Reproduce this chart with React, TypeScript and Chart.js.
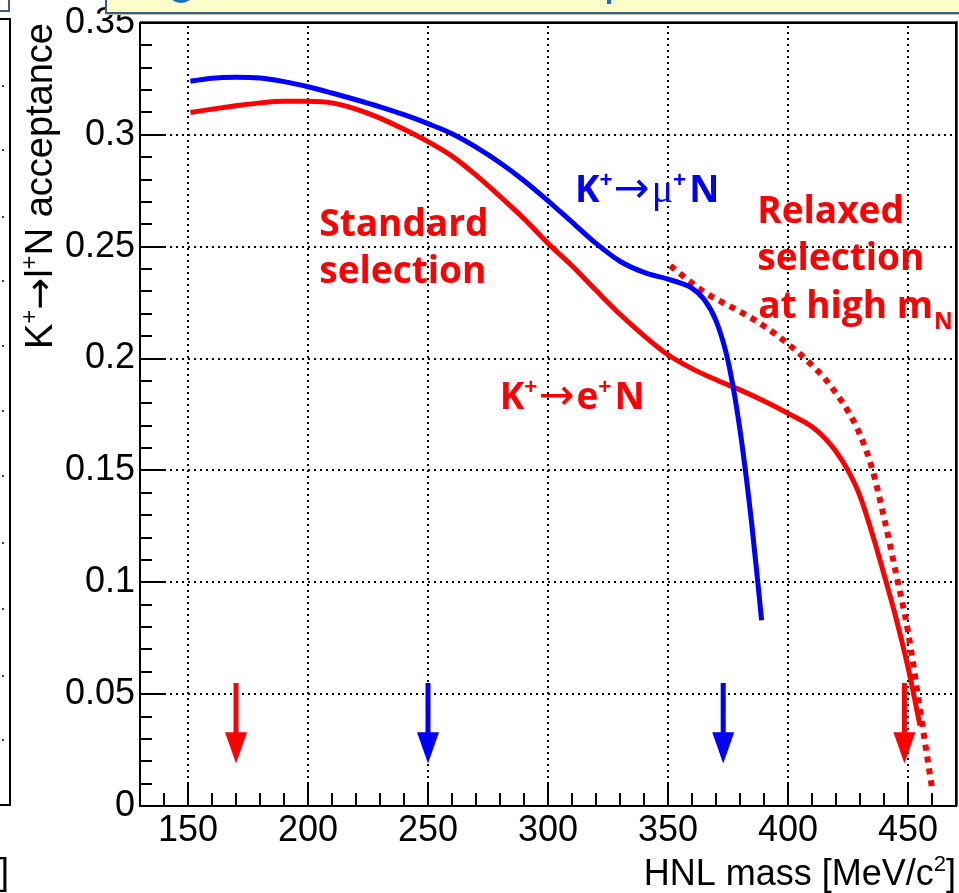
import React, { useEffect, useRef } from "react";
import { Chart, registerables } from "chart.js";

Chart.register(...registerables);

// ---------------- data ----------------
const muMass = [151, 160, 170, 180, 190, 200, 210, 220, 230, 240, 250, 260, 270, 280, 290, 300, 310, 320, 330, 340, 350, 355, 360, 365, 370, 375, 380, 385, 389];
const muAcc = [0.324, 0.3253, 0.3257, 0.3254, 0.3238, 0.3215, 0.3187, 0.3157, 0.3125, 0.309, 0.305, 0.3005, 0.2945, 0.2875, 0.2795, 0.2705, 0.261, 0.2515, 0.2435, 0.2385, 0.2355, 0.2338, 0.2315, 0.2265, 0.217, 0.199, 0.168, 0.125, 0.083];

const eMass = [151, 160, 170, 180, 190, 200, 210, 220, 230, 240, 250, 260, 270, 280, 290, 300, 310, 320, 330, 340, 350, 360, 370, 380, 390, 400, 410, 415, 420, 425, 430, 435, 440, 445, 450, 455];
const eAcc = [0.310, 0.3115, 0.313, 0.3143, 0.315, 0.315, 0.3143, 0.3115, 0.3075, 0.3025, 0.297, 0.2905, 0.282, 0.2725, 0.2625, 0.2515, 0.2415, 0.2305, 0.2198, 0.2102, 0.2017, 0.1955, 0.1905, 0.186, 0.181, 0.1755, 0.1695, 0.1648, 0.1585, 0.150, 0.1385, 0.122, 0.1035, 0.084, 0.062, 0.036];

const relaxMass = [351, 355, 360, 365, 370, 375, 380, 385, 390, 395, 400, 405, 410, 415, 420, 425, 430, 435, 440, 445, 450, 455, 460];
const relaxAcc = [0.2415, 0.238, 0.2338, 0.2298, 0.2266, 0.2238, 0.221, 0.218, 0.2145, 0.2107, 0.2065, 0.202, 0.197, 0.1915, 0.1845, 0.1765, 0.166, 0.151, 0.129, 0.104, 0.078, 0.043, 0.008];

const arrowMass = [170, 250, 373, 448.5];
const arrowColors = ["#ff0000", "#0000ff", "#0000ff", "#ff0000"];

const xTickValues = [150, 200, 250, 300, 350, 400, 450];
const xTickLabels = ["150", "200", "250", "300", "350", "400", "450"];
const yTickValues = [0, 0.05, 0.1, 0.15, 0.2, 0.25, 0.3, 0.35];
const yTickLabels = ["0", "0.05", "0.1", "0.15", "0.2", "0.25", "0.3", "0.35"];

const X_MIN = 130;
const X_MAX = 470;
const Y_MIN = 0;
const Y_MAX = 0.35;
const X_MINOR_STEP = 10;
const Y_MINOR_STEP = 0.01;

// arrow geometry in data units
const ARROW_TOP = 0.055;
const ARROW_HEAD_BASE = 0.033;
const ARROW_TIP = 0.019;

// ---------------- text styles ----------------
const ANN = '700 37px "Open Sans"';
const ANN_SUP = '700 23px "Open Sans"';
const SYM = '400 43px "DejaVu Sans"';
const MU = '400 40px "Liberation Serif"';
const AX = '400 38px "Liberation Sans"';
const AX_SUP = '400 24px "Liberation Sans"';
const AXT = '400 36px "Liberation Sans"';
const AXT_SUP = '400 22px "Liberation Sans"';

type Part = { t: string; f: string; dy?: number; gap?: number };

function richWidth(ctx: CanvasRenderingContext2D, parts: Part[]) {
  let w = 0;
  for (const p of parts) {
    ctx.font = p.f;
    w += ctx.measureText(p.t).width + (p.gap || 0);
  }
  return w;
}

function drawRich(ctx: CanvasRenderingContext2D, x: number, y: number, parts: Part[]) {
  let cx = x;
  for (const p of parts) {
    ctx.font = p.f;
    ctx.fillText(p.t, cx, y + (p.dy || 0));
    cx += ctx.measureText(p.t).width + (p.gap || 0);
  }
}

const annotations: { x: number; y: number; color: string; parts: Part[] }[] = [
  { x: 204.7, y: 0.2548, color: "#ff0000", parts: [{ t: "Standard", f: ANN }] },
  { x: 204.7, y: 0.2338, color: "#ff0000", parts: [{ t: "selection", f: ANN }] },
  {
    x: 311.2, y: 0.2702, color: "#0000ff",
    parts: [
      { t: "K", f: ANN }, { t: "+", f: ANN_SUP, dy: -14, gap: 1 }, { t: "\u2192", f: SYM, gap: 2 },
      { t: "\u03bc", f: MU }, { t: "+", f: ANN_SUP, dy: -14, gap: 3 }, { t: "N", f: ANN },
    ],
  },
  {
    x: 279.9, y: 0.1775, color: "#ff0000",
    parts: [
      { t: "K", f: ANN }, { t: "+", f: ANN_SUP, dy: -14, gap: 1 }, { t: "\u2192", f: SYM, gap: 2 },
      { t: "e", f: ANN }, { t: "+", f: ANN_SUP, dy: -14, gap: 3 }, { t: "N", f: ANN },
    ],
  },
  { x: 387.2, y: 0.2606, color: "#ff0000", parts: [{ t: "Relaxed", f: ANN }] },
  { x: 387.2, y: 0.2398, color: "#ff0000", parts: [{ t: "selection", f: ANN }] },
  {
    x: 387.6, y: 0.2183, color: "#ff0000",
    parts: [{ t: "at high m", f: ANN, gap: 1 }, { t: "N", f: ANN_SUP, dy: 11 }],
  },
];

const yTitle: Part[] = [
  { t: "K", f: AX }, { t: "+", f: AX_SUP, dy: -15 }, { t: "\u2192", f: '400 38px "DejaVu Sans"' },
  { t: "l", f: AX }, { t: "+", f: AX_SUP, dy: -15 }, { t: "N acceptance", f: AX },
];
const xTitle: Part[] = [
  { t: "HNL mass [MeV/c", f: AXT }, { t: "2", f: AXT_SUP, dy: -14 }, { t: "]", f: AXT },
];

const decor = {
  id: "decor",
  beforeDraw(chart: any) {
    const { ctx, width, height } = chart;
    ctx.save();
    ctx.fillStyle = "#ffffff";
    ctx.fillRect(0, 0, width, height);
    ctx.restore();
  },
  beforeDatasetsDraw(chart: any) {
    const { ctx, chartArea: a, scales } = chart;
    const x = scales.x;
    const y = scales.y;
    ctx.save();
    // dotted grid
    ctx.strokeStyle = "#000";
    ctx.lineWidth = 2;
    ctx.setLineDash([2, 4]);
    for (const v of xTickValues) {
      const px = Math.round(x.getPixelForValue(v));
      ctx.beginPath();
      ctx.moveTo(px, a.top + 3);
      ctx.lineTo(px, a.bottom);
      ctx.stroke();
    }
    for (const v of yTickValues) {
      if (v <= Y_MIN || v >= Y_MAX) continue;
      const py = Math.round(y.getPixelForValue(v));
      ctx.beginPath();
      ctx.moveTo(a.left, py);
      ctx.lineTo(a.right, py);
      ctx.stroke();
    }
    ctx.setLineDash([]);
    // ticks (inside)
    ctx.strokeStyle = "#000";
    ctx.lineWidth = 2;
    const nx = Math.round((X_MAX - X_MIN) / X_MINOR_STEP);
    for (let i = 1; i < nx; i++) {
      const v = X_MIN + i * X_MINOR_STEP;
      const major = xTickValues.some((t) => Math.abs(t - v) < 1e-6);
      const px = Math.round(x.getPixelForValue(v));
      ctx.beginPath();
      ctx.moveTo(px, a.bottom);
      ctx.lineTo(px, a.bottom - (major ? 24 : 13));
      ctx.stroke();
    }
    const ny = Math.round((Y_MAX - Y_MIN) / Y_MINOR_STEP);
    for (let i = 1; i < ny; i++) {
      const v = Y_MIN + i * Y_MINOR_STEP;
      const major = yTickValues.some((t) => Math.abs(t - v) < 1e-6);
      const py = Math.round(y.getPixelForValue(v));
      ctx.beginPath();
      ctx.moveTo(a.left, py);
      ctx.lineTo(a.left + (major ? 25 : 12), py);
      ctx.stroke();
    }
    ctx.restore();
  },
  afterDatasetsDraw(chart: any) {
    const { ctx, chartArea: a, scales } = chart;
    const x = scales.x;
    const y = scales.y;
    ctx.save();
    // arrows
    arrowMass.forEach((m, i) => {
      const px = x.getPixelForValue(m);
      const top = y.getPixelForValue(ARROW_TOP);
      const base = y.getPixelForValue(ARROW_HEAD_BASE);
      const tip = y.getPixelForValue(ARROW_TIP);
      ctx.fillStyle = arrowColors[i];
      ctx.fillRect(px - 2.5, top, 5, base - top + 1);
      ctx.beginPath();
      ctx.moveTo(px - 11, base);
      ctx.lineTo(px + 11, base);
      ctx.lineTo(px, tip);
      ctx.closePath();
      ctx.fill();
    });
    // frame
    ctx.strokeStyle = "#000";
    ctx.lineWidth = 2;
    ctx.strokeRect(a.left, a.top, a.right - a.left, a.bottom - a.top);
    ctx.fillStyle = "#555";
    ctx.fillRect(a.left, a.top - 2, a.right - a.left + 2, 1);
    ctx.fillRect(a.right + 1, a.top - 2, 1, a.bottom - a.top + 2);
    // annotations
    ctx.textBaseline = "alphabetic";
    ctx.textAlign = "left";
    for (const an of annotations) {
      ctx.fillStyle = an.color;
      drawRich(ctx, x.getPixelForValue(an.x), y.getPixelForValue(an.y), an.parts);
    }
    // axis titles
    ctx.fillStyle = "#000";
    const xw = richWidth(ctx, xTitle);
    drawRich(ctx, a.right - xw, 885, xTitle);
    const yw = richWidth(ctx, yTitle);
    ctx.save();
    ctx.translate(52, a.top + yw);
    ctx.rotate(-Math.PI / 2);
    drawRich(ctx, 0, 0, yTitle);
    ctx.restore();

    // fragments of neighbouring slide elements
    ctx.fillStyle = "#ffffcc";
    ctx.fillRect(105, 0, 860, 13);
    ctx.fillStyle = "#3b5b8c";
    ctx.fillRect(105, 0, 2, 14);
    ctx.fillRect(105, 12, 860, 2);
    ctx.fillStyle = "#b8c8b0";
    ctx.fillRect(107, 14, 860, 1);
    ctx.fillStyle = "#1c6fc4";
    ctx.beginPath();
    ctx.ellipse(181, -6, 12, 9, 0, 0, Math.PI * 2);
    ctx.fill();
    ctx.fillRect(607, 0, 4, 4);
    ctx.fillStyle = "#3b5b8c";
    ctx.fillRect(8, 0, 2, 12);
    ctx.fillRect(0, 10, 10, 2);
    ctx.fillStyle = "#000";
    ctx.fillRect(0, 18, 11, 2);
    ctx.fillRect(9, 18, 2, 788);
    ctx.fillRect(0, 804, 11, 2);
    ctx.fillStyle = "#444";
    for (const dy of [85, 149, 216, 280, 345, 410, 475, 542, 608, 675, 739]) {
      ctx.fillRect(2, dy, 2, 2);
    }
    ctx.fillStyle = "#000";
    ctx.font = AXT;
    ctx.textAlign = "right";
    ctx.fillText("]", 9, 884);
    ctx.restore();
  },
};

export default function App() {
  const ref = useRef<HTMLCanvasElement | null>(null);
  useEffect(() => {
    if (!ref.current) return;
    const mk = (xs: number[], ys: number[]) => xs.map((v, i) => ({ x: v, y: ys[i] }));
    const chart = new Chart(ref.current, {
      type: "line",
      data: {
        datasets: [
          {
            label: "K+ -> mu+ N",
            data: mk(muMass, muAcc),
            borderColor: "#0000ff",
            borderWidth: 5,
            pointRadius: 0,
            cubicInterpolationMode: "monotone",
            fill: false,
          },
          {
            label: "K+ -> e+ N",
            data: mk(eMass, eAcc),
            borderColor: "#ff0000",
            borderWidth: 5,
            pointRadius: 0,
            cubicInterpolationMode: "monotone",
            fill: false,
          },
          {
            label: "Relaxed selection",
            data: mk(relaxMass, relaxAcc),
            borderColor: "#ff0000",
            borderWidth: 6,
            borderDash: [6, 6],
            pointRadius: 0,
            cubicInterpolationMode: "monotone",
            fill: false,
          },
        ],
      },
      options: {
        animation: false,
        responsive: false,
        maintainAspectRatio: false,
        layout: { padding: { top: 20, right: 3, left: 0, bottom: 0 } },
        plugins: { legend: { display: false }, tooltip: { enabled: false } },
        scales: {
          x: {
            type: "linear",
            min: X_MIN,
            max: X_MAX,
            afterBuildTicks: (s: any) => {
              s.ticks = xTickValues.map((v) => ({ value: v }));
            },
            afterFit: (s: any) => {
              s.height = 87;
            },
            grid: { display: false, drawTicks: false },
            border: { display: false },
            ticks: {
              font: { family: "Liberation Sans", size: 36, lineHeight: 1 },
              color: "#000",
              padding: 7,
              maxRotation: 0,
              autoSkip: false,
              callback: (_v: any, i: number) => xTickLabels[i],
            },
          },
          y: {
            type: "linear",
            min: Y_MIN,
            max: Y_MAX,
            afterBuildTicks: (s: any) => {
              s.ticks = yTickValues.map((v) => ({ value: v }));
            },
            afterFit: (s: any) => {
              s.width = 140;
            },
            grid: { display: false, drawTicks: false },
            border: { display: false },
            ticks: {
              font: { family: "Liberation Sans", size: 36, lineHeight: 1 },
              color: "#000",
              padding: 5,
              autoSkip: false,
              callback: (_v: any, i: number) => yTickLabels[i],
            },
          },
        },
      },
      plugins: [decor],
    });
    return () => chart.destroy();
  }, []);
  return (
    <div style={{ position: "absolute", left: 0, top: 0, width: 959, height: 893 }}>
      <canvas ref={ref} width={959} height={893} style={{ display: "block", width: 959, height: 893 }} />
    </div>
  );
}
